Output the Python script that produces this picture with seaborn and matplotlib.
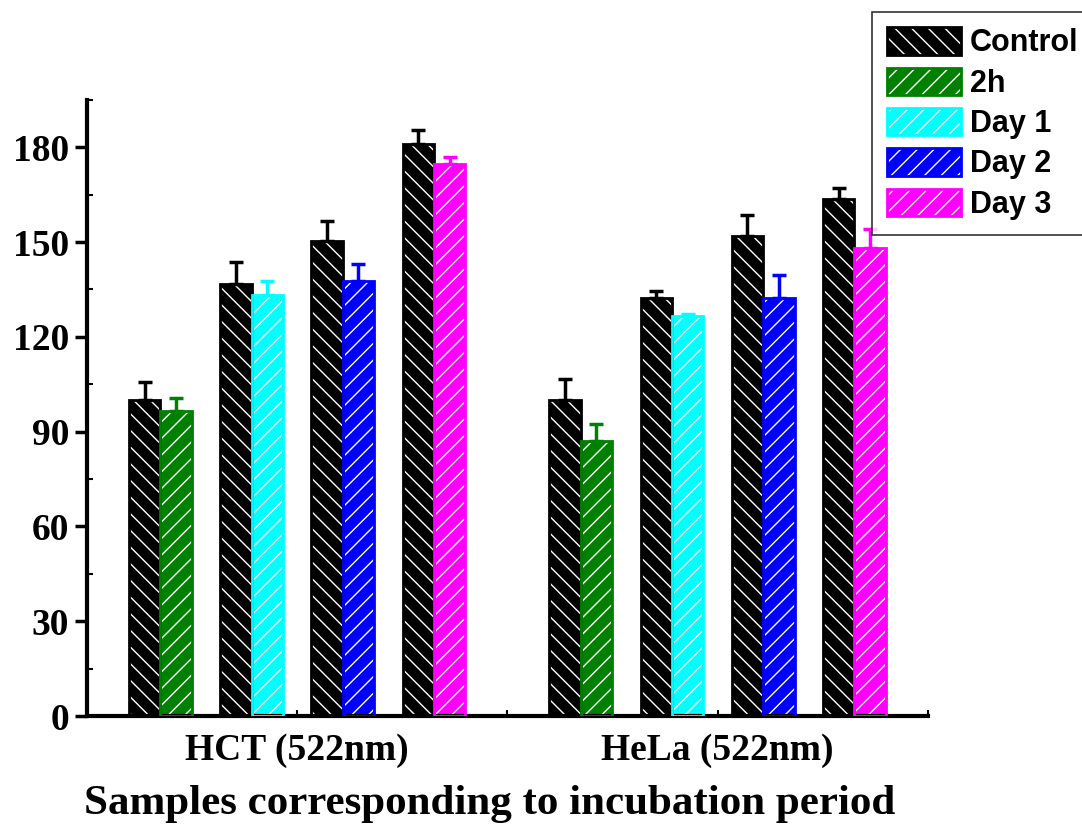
import numpy as np
import matplotlib
matplotlib.use("Agg")
import matplotlib.pyplot as plt
import seaborn as sns
from matplotlib.patches import Patch
from matplotlib.legend_handler import HandlerTuple
from matplotlib.ticker import MultipleLocator

# ---------------- DATA ----------------
groups = ["HCT (522nm)", "HeLa (522nm)"]
treatments = ["2h", "Day 1", "Day 2", "Day 3"]

hct_control = [100.0, 136.8, 150.2, 181.0]
hct_control_err = [5.7, 7.0, 6.6, 4.4]
hct_treat = [96.5, 133.3, 137.8, 174.6]
hct_treat_err = [4.1, 4.5, 5.1, 2.2]

hela_control = [100.0, 132.4, 152.0, 163.5]
hela_control_err = [6.7, 2.2, 6.4, 3.5]
hela_treat = [87.0, 126.7, 132.4, 148.0]
hela_treat_err = [5.4, 0.5, 7.3, 6.0]

control_color = "black"
treat_colors = ["green", "cyan", "blue", "magenta"]

# ---------------- STYLE ----------------
sns.set_style("ticks")
plt.rcParams["font.family"] = ["Liberation Serif", "DejaVu Serif"]
plt.rcParams["hatch.linewidth"] = 1.0
for k in ["text.color", "axes.labelcolor", "xtick.color", "ytick.color",
          "axes.edgecolor"]:
    plt.rcParams[k] = "black"

fig = plt.figure(figsize=(10.82, 8.25), dpi=100)
ax = fig.add_axes([0.0804, 0.132, 0.777, 0.747])

bar_w = 0.0747
pair_offsets = np.array([-1.5, -0.5, 0.5, 1.5]) * 0.217


def hatched_bar(x, h, color, hatch):
    # fill + white hatch, then colored outline on top
    ax.bar(x, h, width=bar_w, color=color, edgecolor="white", hatch=hatch,
           linewidth=0, zorder=2)
    ax.bar(x, h, width=bar_w, fill=False, edgecolor=color, linewidth=2,
           zorder=3)


def up_err(x, h, e, color):
    ax.errorbar(x, h, yerr=[[0], [e]], fmt="none", ecolor=color,
                elinewidth=2.5, capsize=5, capthick=2.5, zorder=4)


all_control = [hct_control, hela_control]
all_control_err = [hct_control_err, hela_control_err]
all_treat = [hct_treat, hela_treat]
all_treat_err = [hct_treat_err, hela_treat_err]

for g in range(len(groups)):
    for i in range(len(treatments)):
        xc = g + pair_offsets[i] - bar_w / 2
        xt = g + pair_offsets[i] + bar_w / 2
        hatched_bar(xc, all_control[g][i], control_color, "\\\\")
        up_err(xc, all_control[g][i], all_control_err[g][i], control_color)
        hatched_bar(xt, all_treat[g][i], treat_colors[i], "//")
        up_err(xt, all_treat[g][i], all_treat_err[g][i], treat_colors[i])

# ---------------- AXES ----------------
ax.set_xlim(-0.5, 1.5)
ax.set_ylim(0, 195)
ax.set_xticks([0, 1])
ax.set_xticklabels(groups, fontsize=27, fontweight="bold")
ax.xaxis.set_minor_locator(MultipleLocator(0.5))
ax.yaxis.set_major_locator(MultipleLocator(30))
ax.yaxis.set_minor_locator(MultipleLocator(15))
ax.tick_params(axis="y", which="major", direction="out", length=9, width=2.5,
               labelsize=27, pad=4)
ax.tick_params(axis="y", which="minor", direction="in", length=4, width=1.5)
ax.tick_params(axis="x", which="both", direction="in", length=4, width=1.5,
               pad=12)
for lab in ax.get_yticklabels():
    lab.set_fontweight("bold")

sns.despine(ax=ax)
for sp in ["left", "bottom"]:
    ax.spines[sp].set_linewidth(3)

ax.set_xlabel("Samples corresponding to incubation period", fontsize=31,
              fontweight="bold")
ax.xaxis.set_label_coords(0.479, -0.112)

# ---------------- LEGEND ----------------
labels = ["Control"] + treatments
colors = [control_color] + treat_colors
hatches = ["\\\\"] + ["//"] * 4
handles = []
for c, h in zip(colors, hatches):
    handles.append((Patch(facecolor=c, edgecolor="white", hatch=h, linewidth=0),
                    Patch(fill=False, edgecolor=c, linewidth=2)))

leg = fig.legend(handles, labels, loc="upper left",
                 bbox_to_anchor=(872 / 1082, 1 - 12 / 825),
                 handler_map={tuple: HandlerTuple(ndivide=1, pad=0)},
                 prop={"family": ["Liberation Sans", "DejaVu Sans"],
                       "weight": "bold", "size": 22},
                 frameon=True, fancybox=False, edgecolor="black",
                 handlelength=2.4, handleheight=1.0, handletextpad=0.3,
                 labelspacing=0.3, borderpad=0.5, borderaxespad=0)
leg.get_frame().set_linewidth(1.2)

fig.savefig("out.png", dpi=100)
